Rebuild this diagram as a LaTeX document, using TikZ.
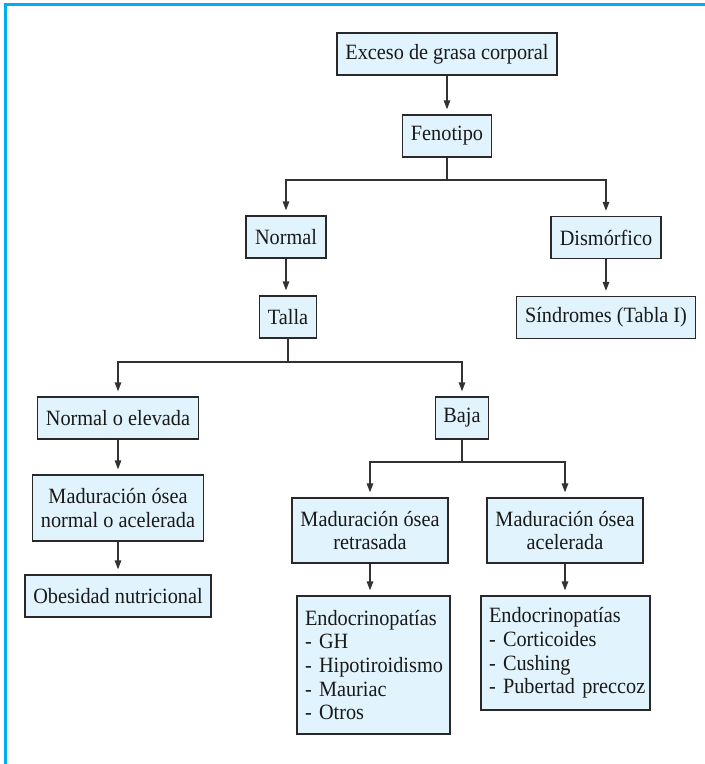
\documentclass[tikz,border=0pt]{standalone}
\usepackage{fontspec}
\setmainfont[FakeStretch=0.93]{Liberation Serif}
\usetikzlibrary{arrows.meta}
\definecolor{frameblue}{RGB}{0,174,239}
\definecolor{boxfill}{RGB}{225,243,252}
\definecolor{boxline}{RGB}{40,40,40}
\definecolor{conn}{RGB}{50,50,50}
\definecolor{txt}{RGB}{25,25,25}
\begin{document}
\begin{tikzpicture}[x=1pt,y=-1pt,
  box/.style={draw=boxline, line width=1.3pt, fill=boxfill, inner sep=0pt, text=txt,
    font=\fontsize{21.8}{23.7}\selectfont, align=center, minimum height=42pt},
  listbox/.style={box, align=left, inner xsep=8pt},
  ln/.style={draw=conn, line width=1.3pt},
  arr/.style={ln, -{Triangle[length=9pt,width=6.5pt]}, shorten >=5pt}]
\useasboundingbox (0,0) rectangle (705,764);
\fill[white] (0,0) rectangle (705,764);
% frame
\draw[frameblue, line width=2.7pt] (5.3,764) -- (5.3,4.3) -- (705,4.3);
% nodes
\node[box, minimum width=220pt] (exc) at (447,54) {Exceso de grasa corporal};
\node[box, minimum width=89pt] (fen) at (447,136) {Fenotipo};
\node[box, minimum width=80pt] (nor) at (286,237) {Normal};
\node[box, minimum width=110pt] (dis) at (606,237.5) {Dismórfico};
\node[box, minimum width=57pt] (tal) at (288,317) {Talla};
\node[box, minimum width=179pt] (sin) at (606,317.5) {Síndromes (Tabla I)};
\node[box, minimum width=161pt] (noe) at (118,418) {Normal o elevada};
\node[box, minimum width=53pt] (baj) at (462,418) {Baja};
\node[box, minimum width=171pt, minimum height=66pt] (mna) at (118,508) {Maduración ósea\\normal o acelerada};
\node[box, minimum width=186pt] (obe) at (118,596) {Obesidad nutricional};
\node[box, minimum width=156pt, minimum height=65pt] (mr) at (370,530.5) {Maduración ósea\\retrasada};
\node[box, minimum width=156pt, minimum height=65pt] (ma) at (565,530.5) {Maduración ósea\\acelerada};
\node[listbox, text width=137pt, minimum height=138pt] (el) at (373.5,665) {Endocrinopatías\\\mbox{- GH}\\\mbox{- Hipotiroidismo}\\\mbox{- Mauriac}\\\mbox{- Otros}};
\node[listbox, text width=153pt, minimum height=114pt] (er) at (565.5,653) {Endocrinopatías\\\mbox{- Corticoides}\\\mbox{- Cushing}\\\mbox{- Pubertad preccoz}};
% branch points
\coordinate (b1) at (447,180);
\coordinate (b2) at (288,362);
\coordinate (b3) at (462,462);
% connectors
\draw[arr] (exc) -- (fen);
\draw[ln] (fen) -- (b1);
\draw[arr] (b1) -| (nor.north);
\draw[arr] (b1) -| (dis.north);
\draw[arr] (nor.south) -- (nor.south |- tal.north);
\draw[arr] (dis.south) -- (dis.south |- sin.north);
\draw[ln] (tal) -- (b2);
\draw[arr] (b2) -| (noe.north);
\draw[arr] (b2) -| (baj.north);
\draw[arr] (noe) -- (mna);
\draw[arr] (mna) -- (obe);
\draw[ln] (baj) -- (b3);
\draw[arr] (b3) -| (mr.north);
\draw[arr] (b3) -| (ma.north);
\draw[arr] (mr.south) -- (mr.south |- el.north);
\draw[arr] (ma.south) -- (ma.south |- er.north);
\end{tikzpicture}
\end{document}
